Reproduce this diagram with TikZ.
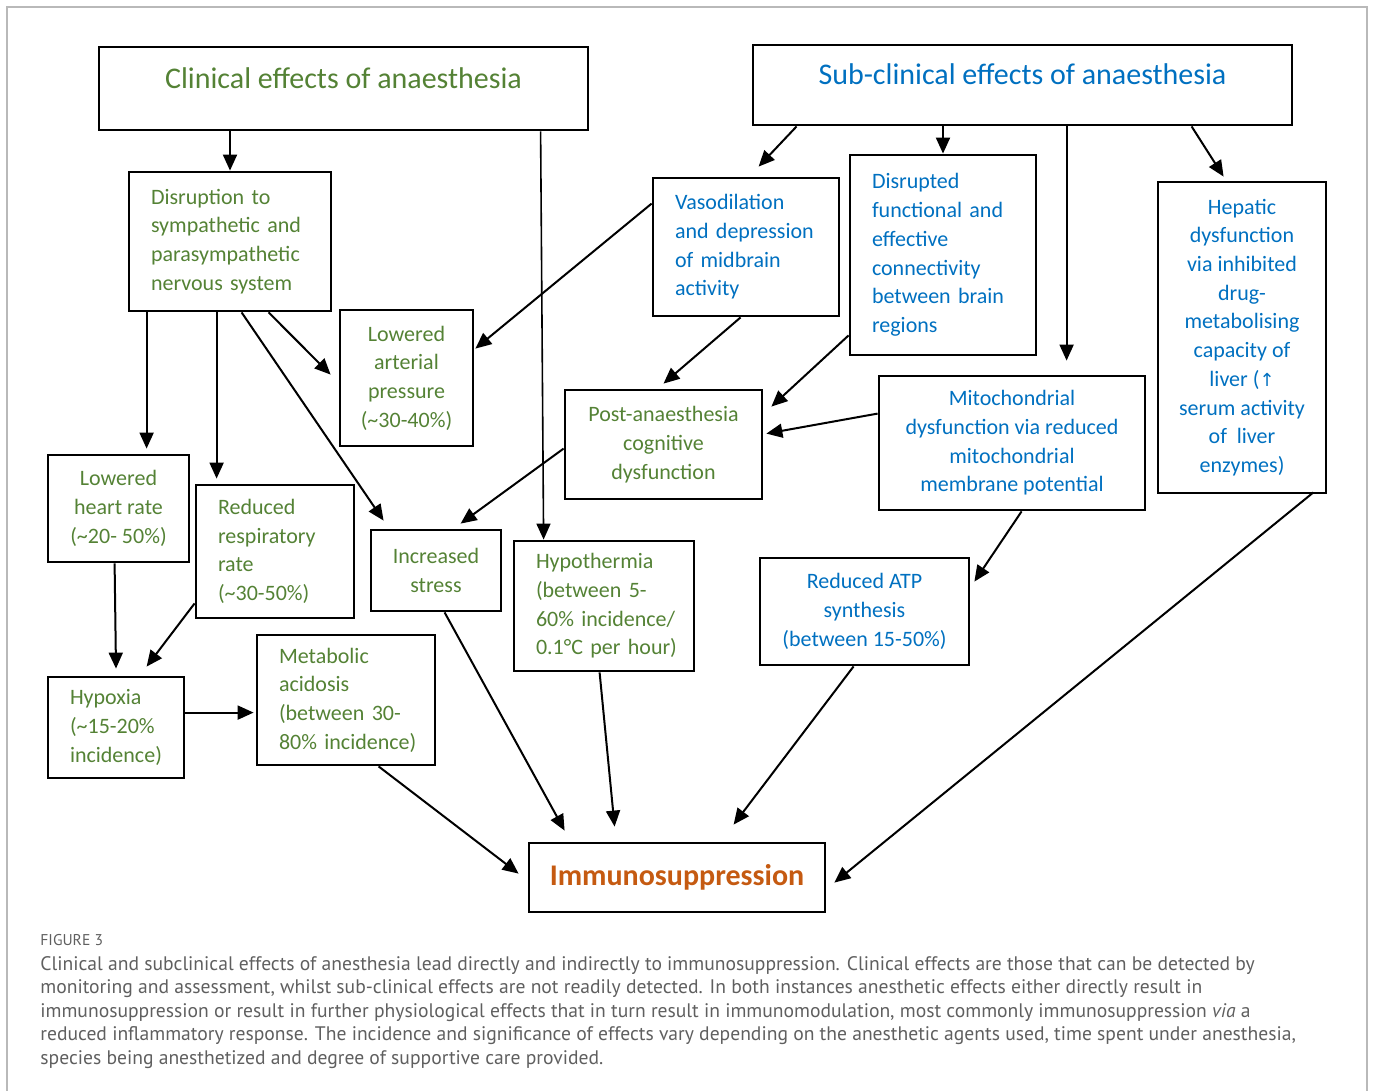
\documentclass[tikz,border=0pt]{standalone}
\usepackage{fontspec}
\setmainfont{Carlito}
\newfontfamily\capfont{PT Sans}
\newfontfamily\symfont{DejaVu Sans}
\usetikzlibrary{arrows.meta,calc}

\definecolor{clingreen}{HTML}{548235}
\definecolor{subblue}{HTML}{0070C0}
\definecolor{immorange}{HTML}{C55A11}
\definecolor{capgray}{HTML}{5F5F5F}

\begin{document}
\begin{tikzpicture}[x=0.5pt, y=-0.5pt,
  box/.style={draw, line width=1.4pt, inner sep=0pt, font=\fontsize{11}{14.35}\selectfont},
  cbox/.style={box, align=center},
  lbox/.style={box, align=left, inner xsep=11pt},
  clin/.style={text=clingreen},
  sub/.style={text=subblue},
  head/.style={box, font=\fontsize{15}{18}\selectfont, text height=6pt, text depth=6pt},
  arr/.style={-{Triangle[length=8pt,width=7pt]}, line width=1pt}]
  \useasboundingbox (0,0) rectangle (1373,1091);

  % frame
  \draw[gray!55, line width=0.8pt] (7,1100) -- (7,7) -- (1367,7) -- (1367,1100);

  % headers
  \node[head, clin, minimum width=244.5pt, minimum height=41.5pt] (clinical) at (343.5,88.5) {Clinical effects of anaesthesia};
  \node[head, sub, minimum width=269.5pt, minimum height=40pt] (subclin) at (1022.5,85) {Sub-clinical effects of anaesthesia};

  % clinical effects
  \node[lbox, clin, text width=79pt, minimum height=69.5pt] (disrupt) at (230,241.5) {Disruption to\\ sympathetic and\\ parasympathetic\\ nervous system};
  \node[cbox, clin, minimum width=66.5pt, minimum height=68pt] (arterial) at (406.5,378) {Lowered\\ arterial\\ pressure\\ (\textasciitilde30-40\%)};
  \node[cbox, clin, minimum width=70.5pt, minimum height=53.5pt] (heart) at (118.5,508.5) {Lowered\\ heart rate\\ (\textasciitilde20- 50\%)};
  \node[lbox, clin, text width=57pt, minimum height=66.5pt] (resp) at (275,551.5) {Reduced\\ respiratory\\ rate\\ (\textasciitilde30-50\%)};
  \node[cbox, clin, minimum width=65pt, minimum height=40.5pt] (stress) at (436,570.5) {Increased\\ stress};
  \node[lbox, clin, text width=68pt, minimum height=65pt] (hypotherm) at (604,606) {Hypothermia\\ \mbox{(between 5-}\\ \mbox{60\% incidence/}\\ \mbox{0.1°C per hour)}};
  \node[lbox, clin, text width=46pt, minimum height=50.5pt] (hypoxia) at (116,727.5) {Hypoxia\\ \mbox{(\textasciitilde15-20\%}\\ \mbox{incidence)}};
  \node[lbox, clin, text width=67pt, minimum height=65pt] (acidosis) at (346,700) {Metabolic\\ acidosis\\ \mbox{(between 30-}\\ \mbox{80\% incidence)}};
  \node[cbox, clin, minimum width=98.5pt, minimum height=54.5pt] (cognitive) at (663.5,444.5) {Post-anaesthesia\\ cognitive\\ dysfunction};

  % sub-clinical effects
  \node[lbox, sub, text width=71pt, minimum height=69pt] (vaso) at (746,247) {Vasodilation\\ and depression\\ of midbrain\\ activity};
  \node[lbox, sub, text width=71pt, minimum height=100pt] (connect) at (943,255) {Disrupted\\ functional and\\ effective\\ connectivity\\ between brain\\ regions};
  \node[cbox, sub, minimum width=84pt, minimum height=155.5pt] (hepatic) at (1242,337.5) {Hepatic\\ dysfunction\\ via inhibited\\ drug-\\ metabolising\\ capacity of\\ liver ({\symfont\fontsize{9}{11}\selectfont ↑}\\ serum activity\\ of\ \ liver\\ enzymes)};
  \node[cbox, sub, minimum width=133pt, minimum height=67pt] (mito) at (1012,443) {Mitochondrial\\ dysfunction via reduced\\ mitochondrial\\ membrane potential};
  \node[cbox, sub, minimum width=104.5pt, minimum height=53.5pt] (atp) at (864.5,611.5) {Reduced ATP\\ synthesis\\ (between 15-50\%)};

  % outcome
  \node[box, align=center, text=immorange, font=\fontsize{15}{18}\selectfont\bfseries, minimum width=148pt, minimum height=34.5pt] (immuno) at (677,877.5) {Immunosuppression};

  % arrows from clinical side
  \draw[arr] (clinical.south -| disrupt.north) -- (disrupt.north);
  \draw[arr, line width=0.8pt] ($(clinical.south west)+(443,0)$) -- ($(hypotherm.north west)+(31,0)$);
  \draw[arr] ($(disrupt.south west)+(19,0)$) -- ($(heart.north west)+(100,-5)$);
  \draw[arr] ($(disrupt.south west)+(89,0)$) -- ($(resp.north west)+(22,-5)$);
  \draw[arr] ($(disrupt.south west)+(114,0)$) -- ($(stress.north west)+(14,-8)$);
  \draw[arr] ($(disrupt.south west)+(141,0)$) -- ($(arterial.north west)+(-8,66)$);
  \draw[arr] ($(heart.south west)+(68,0)$) -- ($(hypoxia.north)+(0,-7)$);
  \draw[arr] ($(resp.south west)+(0,-16)$) -- ($(hypoxia.north west)+(100,-9)$);
  \draw[arr] ($(hypoxia.north east)+(0,37)$) -- ($(acidosis.north west)+(-2,79)$);
  \draw[arr] ($(cognitive.north west)+(0,60)$) -- ($(stress.north west)+(91,-5)$);

  % arrows from sub-clinical side
  \draw[arr] ($(subclin.south west)+(45,0)$) -- ($(vaso.north west)+(107,-10)$);
  \draw[arr] (subclin.south -| connect.north) -- (connect.north);
  \draw[arr] ($(subclin.south west)+(315,0)$) -- ($(mito.north west)+(189,-14)$);
  \draw[arr] ($(subclin.south west)+(440,0)$) -- ($(hepatic.north west)+(67,-4)$);
  \draw[arr] ($(vaso.north west)+(0,27)$) -- ($(arterial.north east)+(1,40)$);
  \draw[arr] ($(vaso.south west)+(89,0)$) -- ($(cognitive.north)+(0,-5)$);
  \draw[arr] ($(connect.south west)+(0,-21)$) -- ($(cognitive.north east)+(8,18)$);
  \draw[arr] ($(mito.north west)+(0,39)$) -- ($(cognitive.north east)+(3,45)$);
  \draw[arr] ($(mito.south west)+(144,0)$) -- ($(atp.north east)+(4,25)$);

  % arrows into immunosuppression
  \draw[arr] ($(acidosis.south west)+(123,0)$) -- ($(immuno.north west)+(-9,32)$);
  \draw[arr] ($(stress.south west)+(75,0)$) -- ($(immuno.north west)+(37,-11)$);
  \draw[arr] ($(hypotherm.south west)+(87,0)$) -- ($(immuno.north west)+(87,-15)$);
  \draw[arr] ($(atp.south west)+(95,0)$) -- ($(immuno.north west)+(206,-17)$);
  \draw[arr] ($(hepatic.south east)+(-14,-2)$) -- ($(immuno.north east)+(8,41)$);

  % caption
  \node[anchor=base west, inner sep=0pt, text=capgray, font=\capfont\fontsize{7.8}{9}\selectfont] (figlabel) at (40,945) {FIGURE 3};
  \node[anchor=north west, inner sep=0pt, align=left, text=capgray, font=\capfont\fontsize{9.8}{11.75}\selectfont] (caption) at (40,956) {Clinical and subclinical effects of anesthesia lead directly and indirectly to immunosuppression. Clinical effects are those that can be detected by\\
monitoring and assessment, whilst sub-clinical effects are not readily detected. In both instances anesthetic effects either directly result in\\
immunosuppression or result in further physiological effects that in turn result in immunomodulation, most commonly immunosuppression \textit{via} a\\
reduced inflammatory response. The incidence and significance of effects vary depending on the anesthetic agents used, time spent under anesthesia,\\
species being anesthetized and degree of supportive care provided.};
\end{tikzpicture}
\end{document}
